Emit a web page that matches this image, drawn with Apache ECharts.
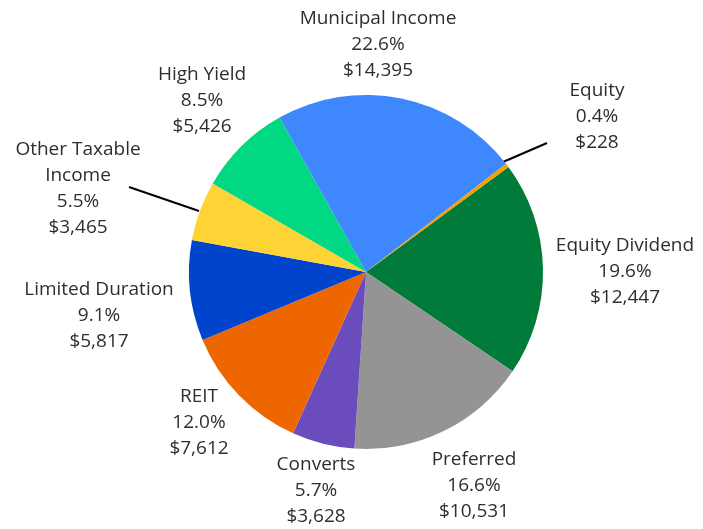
<!DOCTYPE html>
<html>
<head>
<meta charset="utf-8">
<script src="https://cdn.jsdelivr.net/npm/echarts@6/dist/echarts.min.js"></script>
<style>html,body{margin:0;padding:0;background:#fff}#c{width:703px;height:529px}</style>
</head>
<body>
<div id="c"></div>
<script>
const categories = ['Equity Dividend','Preferred','Converts','REIT','Limited Duration','Other Taxable\nIncome','High Yield','Municipal Income','Equity'];
const values = [12447,10531,3628,7612,5817,3465,5426,14395,228];
const percentLabels = ['19.6%','16.6%','5.7%','12.0%','9.1%','5.5%','8.5%','22.6%','0.4%'];
const colors = ['#007b3a','#949494','#6b4cbd','#ee6600','#0044cc','#fdd335','#00d882','#3f87fc','#f5a000'];
// label anchor (center of text block) and optional leader line
const labelPos = [[625,272],[474,486],[316,491],[199,423],[99,316],[78,189],[202,101],[378,45],[597,117]];
const leaderLines = {5:[[199,211],[129,187]], 8:[[503,162],[547,143]]};

function fmt(n){return '$'+n.toString().replace(/\B(?=(\d{3})+(?!\d))/g, ',');}

const chart = echarts.init(document.getElementById('c'));
chart.setOption({
  animation:false,
  series:[{
    type:'pie',
    center:[366,272],
    radius:[0,177],
    startAngle:90-53.6,
    clockwise:true,
    avoidLabelOverlap:false,
    itemStyle:{borderWidth:0},
    label:{
      show:true,
      position:'outside',
      fontFamily:'Open Sans',
      fontSize:19,
      lineHeight:26,
      color:'#2e2e2e',
      align:'center',
      formatter:p=>p.name+'\n'+percentLabels[p.dataIndex]+'\n'+fmt(p.value)
    },
    labelLine:{show:true,lineStyle:{color:'#000',width:2}},
    labelLayout:function(params){
      const i = params.dataIndex;
      const r = {x:labelPos[i][0], y:labelPos[i][1], align:'center', verticalAlign:'middle'};
      if(leaderLines[i]){
        const a = leaderLines[i][0], b = leaderLines[i][1];
        r.labelLinePoints=[a,[(a[0]+b[0])/2,(a[1]+b[1])/2],b];
      }
      return r;
    },
    data:categories.map((c,i)=>({
      name:c, value:values[i],
      itemStyle:{color:colors[i]},
      labelLine:{show:!!leaderLines[i]}
    }))
  }]
});
</script>
</body>
</html>
